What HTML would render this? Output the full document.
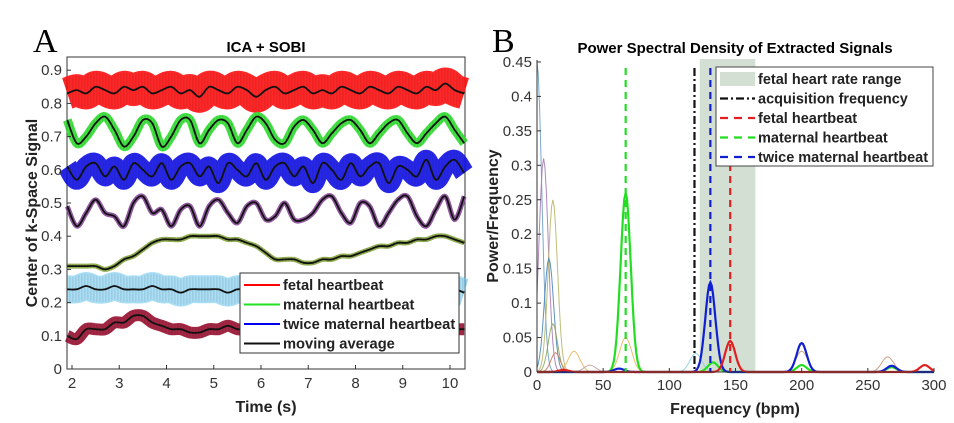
<!DOCTYPE html>
<html><head><meta charset="utf-8"><style>
body{margin:0;background:#fff;}
svg{display:block;font-family:"Liberation Sans",sans-serif;}
</style></head><body>
<svg id="fig" width="954" height="423" viewBox="0 0 954 423">
<defs>
<pattern id="hatch" width="3" height="6" patternUnits="userSpaceOnUse"><rect width="1.6" height="6" fill="#000" opacity="0.25"/></pattern>
</defs>
<text x="33" y="52" font-family="Liberation Serif,serif" font-size="34">A</text>
<text x="492" y="52" font-family="Liberation Serif,serif" font-size="34">B</text>
<text x="266" y="52" text-anchor="middle" font-size="15" font-weight="bold">ICA + SOBI</text>
<text x="735" y="53" text-anchor="middle" font-size="15" font-weight="bold">Power Spectral Density of Extracted Signals</text>
<g id="A"></g>
<g id="B"></g>
</svg>
<script>
// ---------- Chart A data ----------
const tA = [1.9,2.1,2.3,2.5,2.7,2.9,3.1,3.3,3.5,3.7,3.9,4.1,4.3,4.5,4.7,4.9,5.1,5.3,5.5,5.7,5.9,6.1,6.3,6.5,6.7,6.9,7.1,7.3,7.5,7.7,7.9,8.1,8.3,8.5,8.7,8.9,9.1,9.3,9.5,9.7,9.9,10.1,10.3];
const fetalAvg = [.83,.84,.83,.85,.84,.83,.85,.84,.85,.83,.84,.85,.83,.84,.82,.85,.84,.83,.85,.84,.82,.84,.85,.83,.84,.85,.83,.84,.83,.85,.84,.83,.85,.84,.83,.85,.84,.83,.85,.84,.86,.84,.83];
const maternalAvg = [.75,.68,.70,.74,.76,.72,.67,.70,.75,.74,.67,.70,.75,.75,.68,.72,.75,.74,.68,.72,.76,.74,.69,.68,.73,.75,.72,.68,.71,.74,.75,.72,.68,.71,.74,.75,.71,.68,.71,.74,.76,.72,.68];
const twiceAvg = [.61,.57,.61,.62,.58,.61,.57,.62,.60,.58,.62,.57,.61,.62,.58,.61,.56,.62,.60,.58,.62,.57,.61,.62,.58,.61,.56,.62,.60,.57,.62,.58,.61,.62,.56,.61,.60,.58,.63,.57,.61,.63,.59];
const purpleAvg = [.49,.43,.47,.51,.47,.46,.43,.50,.52,.47,.48,.43,.48,.49,.43,.49,.51,.47,.44,.49,.50,.45,.46,.50,.45,.45,.47,.51,.52,.47,.44,.50,.49,.43,.47,.51,.52,.46,.43,.48,.52,.45,.52];
const oliveAvg = [.31,.31,.31,.31,.30,.31,.33,.34,.36,.38,.39,.39,.39,.40,.40,.40,.40,.39,.39,.38,.37,.35,.33,.33,.33,.32,.32,.33,.33,.34,.34,.35,.36,.37,.37,.38,.38,.39,.39,.40,.40,.39,.38];
const cyanAvg = [.24,.24,.25,.24,.24,.25,.24,.24,.24,.25,.24,.24,.23,.24,.24,.24,.24,.23,.24,.24,.24,.24,.24,.24,.24,.24,.24,.24,.24,.24,.24,.24,.24,.24,.24,.24,.24,.24,.24,.24,.24,.24,.23];
const darkredAvg = [.10,.09,.12,.12,.12,.14,.14,.16,.16,.14,.13,.12,.12,.11,.11,.12,.12,.13,.12,.12,.12,.12,.12,.12,.12,.12,.12,.12,.12,.12,.12,.12,.12,.12,.12,.12,.12,.12,.12,.12,.12,.12,.12];
const yTicksA = [0,0.1,0.2,0.3,0.4,0.5,0.6,0.7,0.8,0.9];
const xTicksA = [2,3,4,5,6,7,8,9,10];
const legendA = ["fetal heartbeat","maternal heartbeat","twice maternal heartbeat","moving average"];

// ---------- Chart B data ----------
const xTicksB = [0,50,100,150,200,250,300];
const yTicksB = [0,0.05,0.1,0.15,0.2,0.25,0.3,0.35,0.4,0.45];
const thinCenters = [0,5,12,9,12,67,28,14,120,265,200,40];
const thinHeights = [.45,.31,.25,.165,.07,.05,.03,.028,.027,.022,.03,.01];
const thinColors = ["#6a9ec4","#a77bb5","#b8b66a","#4a86b8","#8fa860","#e8b860","#e8b860","#c77a5a","#8ccfe8","#c9967a","#c9a070","#c7a0a0"];
const greenCenters = [67,133,200,268];
const greenHeights = [.26,.014,.01,.007];
const blueCenters = [131,200,268,62];
const blueHeights = [.13,.042,.009,.005];
const redCenters = [146,293,20];
const redHeights = [.045,.01,.003];
const fetalRange = [123,165];
const acqFreq = 119, fetalFreq = 146, maternalFreq = 67, twiceFreq = 131;
const legendB = ["fetal heart rate range","acquisition frequency","fetal heartbeat","maternal heartbeat","twice maternal heartbeat"];

const NS="http://www.w3.org/2000/svg";
function mk(p,tag,at){const e=document.createElementNS(NS,tag);for(const k in at)e.setAttribute(k,at[k]);p.appendChild(e);return e;}

// ----- Chart A -----
const A=document.getElementById('A');
const ax=t=>72+(t-2)*47.25, ay=v=>369-v*332;
let r=mk(A,'rect',{x:67,y:57,width:398,height:312,fill:'#fff',stroke:'#333','stroke-width':1});

function pathA(arr){
 const P=arr.map((v,i)=>[ax(tA[i]),ay(v)]);let d='M'+P[0][0].toFixed(1)+' '+P[0][1].toFixed(1);
 for(let i=0;i<P.length-1;i++){const p0=P[i-1]||P[i],p1=P[i],p2=P[i+1],p3=P[i+2]||p2;
  const c1=[p1[0]+(p2[0]-p0[0])/6,p1[1]+(p2[1]-p0[1])/6],c2=[p2[0]-(p3[0]-p1[0])/6,p2[1]-(p3[1]-p1[1])/6];
  d+=' C'+c1[0].toFixed(1)+' '+c1[1].toFixed(1)+' '+c2[0].toFixed(1)+' '+c2[1].toFixed(1)+' '+p2[0].toFixed(1)+' '+p2[1].toFixed(1);}
 return d;}
const seriesA=[[fetalAvg,'#ff1010',32,'fetal',0.9],[maternalAvg,'#30e030',9,'maternal',0.9],[twiceAvg,'#1010e8',20,'twice-maternal',0.9],[purpleAvg,'#8a4a9a',5,'purple',0.9],[oliveAvg,'#8aaa40',5,'olive',0.9],[cyanAvg,'#70c8ee',28,'cyan',0.6],[darkredAvg,'#9a1030',12,'dark-red',0.9]];
seriesA.forEach(s=>{
 let b=mk(A,'path',{d:pathA(s[0]),fill:'none',stroke:s[1],'stroke-width':s[2],'stroke-linejoin':'round',opacity:s[4]});
 
 let h=mk(A,'path',{d:pathA(s[0]),fill:'none',stroke:'url(#hatch)','stroke-width':s[2]*0.9,opacity:0.3});
 
 let l=mk(A,'path',{d:pathA(s[0]),fill:'none',stroke:'#111','stroke-width':1.8});
 
});
yTicksA.forEach(v=>{let t=mk(A,'text',{x:62,y:ay(v)+5,'text-anchor':'end','font-size':15,fill:'#333'});t.textContent=String(v);
 
 mk(A,'line',{x1:67,x2:71,y1:ay(v),y2:ay(v),stroke:'#333'});});
xTicksA.forEach(v=>{let t=mk(A,'text',{x:ax(v),y:388,'text-anchor':'middle','font-size':15,fill:'#333'});t.textContent=String(v);
 
 mk(A,'line',{x1:ax(v),x2:ax(v),y1:369,y2:365,stroke:'#333'});});
let xt=mk(A,'text',{x:266,y:412,'text-anchor':'middle','font-size':16,'font-weight':'bold',fill:'#222'});xt.textContent='Time (s)';

let yt=mk(A,'text',{x:0,y:0,'text-anchor':'middle','font-size':16,'font-weight':'bold',fill:'#222',transform:'translate(37,213) rotate(-90)'});yt.textContent='Center of k-Space Signal';

let lg=mk(A,'g',{});
mk(lg,'rect',{x:240,y:273,width:219,height:80,fill:'#fff',stroke:'#333'});
const lcA=['#ff0000','#22e022','#0000ee','#111'];
legendA.forEach((s,i)=>{const y=285+i*19.5;
 mk(lg,'line',{x1:244,x2:280,y1:y,y2:y,stroke:lcA[i],'stroke-width':2});
 let t=mk(lg,'text',{x:283,y:y+5,'font-size':14.7,'font-weight':'bold',fill:'#222'});t.textContent=s;
 });

// ----- Chart B -----
const B=document.getElementById('B');
const bx=f=>537+f*1.3233, by=v=>372-v*689;
let sh=mk(B,'rect',{x:bx(fetalRange[0]),y:59,width:bx(fetalRange[1])-bx(fetalRange[0]),height:313,fill:'#d3dfd3'});

function gauss(cs,hs,w){let d='';for(let f=0;f<=300;f+=1){let v=0;cs.forEach((c,i)=>{v+=hs[i]*Math.exp(-((f-c)*(f-c))/(2*w*w));});v=Math.min(v,0.455);d+=(f?'L':'M')+bx(f).toFixed(1)+' '+by(v).toFixed(1);}return d;}
thinCenters.forEach((c,i)=>{let p=mk(B,'path',{d:gauss([c],[thinHeights[i]],c<20?3.5:4.5),fill:'none',stroke:thinColors[i],'stroke-width':1,opacity:0.9});
 });
[[greenCenters,greenHeights,'#22dd22','psd-maternal'],[blueCenters,blueHeights,'#1020d0','psd-twice-maternal'],[redCenters,redHeights,'#e02020','psd-fetal']].forEach(s=>{
 let p=mk(B,'path',{d:gauss(s[0],s[1],3.8),fill:'none',stroke:s[2],'stroke-width':2.2});
 });
[[maternalFreq,'#22dd22','7 5','maternal-line'],[twiceFreq,'#1020d0','7 5','twice-maternal-line'],[fetalFreq,'#e02020','7 5','fetal-line'],[acqFreq,'#111','8 3 2 3','acquisition-line']].forEach(s=>{
 let l=mk(B,'line',{x1:bx(s[0]),x2:bx(s[0]),y1:68,y2:372,stroke:s[1],'stroke-width':2.2,'stroke-dasharray':s[2]});
 });
mk(B,'line',{x1:537,x2:537,y1:60,y2:372,stroke:'#333'});
mk(B,'line',{x1:537,x2:934,y1:372,y2:372,stroke:'#333'});
yTicksB.forEach(v=>{let t=mk(B,'text',{x:532,y:by(v)+5,'text-anchor':'end','font-size':15,fill:'#333'});t.textContent=String(v);
 
 mk(B,'line',{x1:537,x2:541,y1:by(v),y2:by(v),stroke:'#333'});});
xTicksB.forEach(v=>{let t=mk(B,'text',{x:bx(v),y:390,'text-anchor':'middle','font-size':15,fill:'#333'});t.textContent=String(v);
 
 mk(B,'line',{x1:bx(v),x2:bx(v),y1:372,y2:368,stroke:'#333'});});
let xt2=mk(B,'text',{x:735,y:414,'text-anchor':'middle','font-size':16,'font-weight':'bold',fill:'#222'});xt2.textContent='Frequency (bpm)';

let yt2=mk(B,'text',{x:0,y:0,'text-anchor':'middle','font-size':16,'font-weight':'bold',fill:'#222',transform:'translate(498,216) rotate(-90)'});yt2.textContent='Power/Frequency';

let lg2=mk(B,'g',{});
mk(lg2,'rect',{x:716,y:67,width:217,height:99,fill:'#fff',stroke:'#444'});
legendB.forEach((s,i)=>{const y=79+i*19.5;
 if(i===0) mk(lg2,'rect',{x:720,y:y-7,width:35,height:14,fill:'#d3dfd3'});
 else{const c=['#111','#e02020','#22dd22','#1020d0'][i-1];
  mk(lg2,'line',{x1:720,x2:755,y1:y,y2:y,stroke:c,'stroke-width':2.2,'stroke-dasharray':i===1?'8 3 2 3':'8 6'});}
 let t=mk(lg2,'text',{x:758,y:y+5,'font-size':14.5,'font-weight':'bold',fill:'#222'});t.textContent=s;
 });
</script>
</body></html>
